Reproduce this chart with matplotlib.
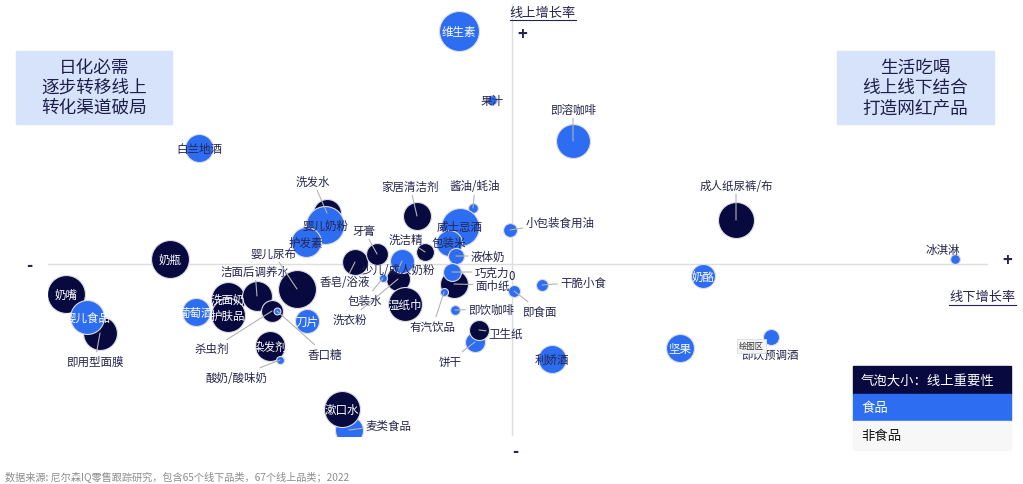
import matplotlib
matplotlib.use("Agg")
import matplotlib.pyplot as plt
import numpy as np
from matplotlib.patches import Rectangle

plt.rcParams['font.family'] = ['Noto Sans CJK SC', 'DejaVu Sans']

# 品类数据: 线下增长率(x), 线上增长率(y), 线上重要性(气泡大小), 分组
# 先画非食品, 再画食品, 最后两个压在上面的
names = ['成人纸尿裤/布', '奶瓶', '奶嘴', '即用型面膜', '洗面奶', '护肤品', '洁面后调养水',
         '婴儿尿布', '杀虫剂', '染发剂', '洗发水', '香皂/浴液', '牙膏', '洗洁精', '洗衣粉',
         '湿纸巾', '家居清洁剂', '面巾纸',
         '维生素', '果汁', '即溶咖啡', '白兰地酒', '冰淇淋', '奶酪', '即饮预调酒', '坚果',
         '利娇酒', '饼干', '麦类食品', '婴儿食品', '葡萄酒', '香口糖', '刀片', '酸奶/酸味奶',
         '婴儿奶粉', '护发素', '少儿/成人奶粉', '包装水', '酱油/蚝油', '小包装食用油',
         '威士忌酒', '包装米', '液体奶', '巧克力', '有汽饮品', '即饮咖啡', '即食面', '干脆小食',
         '漱口水', '卫生纸']
offline_growth = [22.4, -34.2, -44.6, -41.2, -28.4, -28.4, -25.5,
                  -21.5, -24.0, -24.2, -18.5, -15.7, -13.5, -8.7, -11.4,
                  -10.7, -9.5, -5.8,
                  -5.3, -2.0, 6.1, -31.3, 44.3, 19.1, 25.9, 16.8,
                  4.0, -3.7, -16.3, -42.5, -31.6, -23.5, -20.5, -23.2,
                  -18.7, -20.6, -11.0, -12.9, -3.9, -0.2,
                  -5.2, -6.3, -5.6, -6.0, -6.8, -5.7, 0.2, 3.0,
                  -17.0, -3.3]
online_growth = [4.4, 0.5, -3.0, -6.9, -3.5, -5.1, -3.2,
                 -2.5, -4.7, -8.2, 5.1, 0.2, 1.0, 1.2, -1.5,
                 -4.0, 4.8, -2.0,
                 23.3, 16.4, 12.3, 11.6, 0.5, -1.2, -7.3, -8.4,
                 -9.5, -7.8, -16.6, -5.3, -4.8, -4.7, -5.7, -9.6,
                 3.9, 2.2, 0.3, -1.4, 5.6, 3.4,
                 3.7, 2.1, 0.8, -0.8, -2.8, -4.6, -2.7, -2.1,
                 -14.5, -6.6]
online_weight = [81, 90, 90, 72, 72, 72, 56,
                 90, 30, 56, 49, 42, 30, 20, 36,
                 72, 49, 49,
                 100, 6, 72, 49, 6, 36, 16, 49,
                 49, 25, 49, 72, 49, 3, 36, 4,
                 90, 56, 36, 4, 6, 12,
                 90, 42, 16, 20, 4, 6, 9, 9,
                 81, 25]
group = ['非食品'] * 18 + ['食品'] * 30 + ['非食品'] * 2
# 刀片在原图里是蓝色
group[names.index('刀片')] = '食品'

# 气泡外标签: 相对气泡中心的偏移 (px, y向上)
outer_labels = {
    '即溶咖啡': (0, 32), '成人纸尿裤/布': (0, 35), '冰淇淋': (-12, 10),
    '即饮预调酒': (-1, -17), '卫生纸': (27, -3), '饼干': (-25, -19),
    '麦类食品': (39, 5), '即用型面膜': (-5, -28), '洁面后调养水': (-2, 25),
    '婴儿尿布': (-24, 36), '杀虫剂': (-60, -38), '香口糖': (48, -43),
    '酸奶/酸味奶': (-44, -17), '洗发水': (-14, 32), '香皂/浴液': (-10, -20),
    '牙膏': (-13, 24), '洗洁精': (-19, 13), '少儿/成人奶粉': (-4, -9),
    '包装水': (-18, -22), '洗衣粉': (-48, -40), '家居清洁剂': (-7, 30),
    '酱油/蚝油': (2, 22), '小包装食用油': (50, 8), '液体奶': (32, 0),
    '巧克力': (40, 0), '面巾纸': (39, -1), '有汽饮品': (-11, -34),
    '即饮咖啡': (36, 1), '即食面': (26, -20), '干脆小食': (41, 3),
}
no_line = {'冰淇淋', '即饮预调酒'}
dark_inside = {'果汁', '白兰地酒', '利娇酒', '婴儿奶粉', '护发素', '威士忌酒', '包装米'}

NAVY = '#08093f'
BLUE = '#2d6df1'
TXT = '#25254f'
colors = {'食品': BLUE, '非食品': NAVY}

W, H = 1023, 485
fig = plt.figure(figsize=(W / 100, H / 100), dpi=100)


def fx(px):
    return px / W


def fy(py):
    return 1 - py / H


ax = fig.add_axes([fx(48), fy(437), 940 / W, 432 / H])
ax.set_xlim(-46.4, 47.6)
ax.set_ylim(-17.2, 26.0)
ax.axis('off')
ax.axhline(0, color='#dedede', lw=1, zorder=1)
ax.axvline(0, color='#dedede', lw=1, zorder=1)

pt = 72 / 100  # px -> pt
for i, n in enumerate(names):
    x, y, w = offline_growth[i], online_growth[i], online_weight[i]
    s = w * (4 * pt) ** 2
    ax.scatter(x, y, s=s, color=colors[group[i]], edgecolor='#dcdce4',
               linewidth=0.8, zorder=2 + i * 0.01)
    if n in outer_labels:
        dx, dy = outer_labels[n]
        props = None if n in no_line else dict(arrowstyle='-', color='#b3b3b3',
                                                lw=0.8, shrinkA=0, shrinkB=0)
        ax.annotate(n, xy=(x, y), xytext=(dx * pt, dy * pt),
                    textcoords='offset points', ha='center', va='center',
                    fontsize=8.3, color=TXT, arrowprops=props, zorder=10)
    else:
        c = TXT if n in dark_inside else 'white'
        ax.text(x, y, n, ha='center', va='center', fontsize=8.3, color=c, zorder=10)

ax.text(0, -1.1, '0', ha='center', va='center', fontsize=8.3, color=TXT, zorder=10)

# 象限说明框
for x0, x1, txt in [(16, 172, '日化必需\n逐步转移线上\n转化渠道破局'),
                    (837, 994, '生活吃喝\n线上线下结合\n打造网红产品')]:
    fig.patches.append(Rectangle((fx(x0), fy(125)), fx(x1 - x0), 73 / H,
                                 transform=fig.transFigure, color='#d7e2fb', zorder=0))
    fig.text(fx((x0 + x1) / 2), fy(88), txt, ha='center', va='center',
             fontsize=12.7, color='#1e1e4a', linespacing=1.15)

# 坐标轴标题
for cx, cy, x0, x1, txt in [(543, 13, 510, 576, '线上增长率'),
                            (982, 298, 949, 1016, '线下增长率')]:
    fig.text(fx(cx), fy(cy), txt, ha='center', va='center', fontsize=9.5, color=TXT)
    fig.add_artist(plt.Line2D([fx(x0), fx(x1)], [fy(cy + 8), fy(cy + 8)],
                              color=TXT, lw=0.8))

for px, py, sym in [(522, 35, '+'), (1007, 261, '+'), (29, 266, '-'), (515, 452, '-')]:
    fig.text(fx(px), fy(py), sym, ha='center', va='center', fontsize=12,
             color=TXT, fontweight='bold')

# 图例
legend_rows = [('气泡大小：线上重要性', NAVY, 'white', 367, 395),
               ('食品', BLUE, 'white', 395, 422),
               ('非食品', '#f7f7f7', '#111111', 422, 451)]
for txt, bg, fg, y0, y1 in legend_rows:
    fig.patches.append(Rectangle((fx(853), fy(y1)), fx(158), (y1 - y0) / H,
                                 transform=fig.transFigure, color=bg, zorder=0))
    fig.text(fx(861), fy((y0 + y1) / 2), txt, ha='left', va='center',
             fontsize=9.6, color=fg)

# 截图里的提示框
fig.patches.append(Rectangle((fx(737), fy(354)), fx(29), 14 / H,
                             transform=fig.transFigure, facecolor='#f4f4f4',
                             edgecolor='#dddddd', lw=0.6, zorder=5))
fig.text(fx(751), fy(347), '绘图区', ha='center', va='center', fontsize=6,
         color='#333333', zorder=6)

fig.text(fx(5), fy(477), '数据来源: 尼尔森IQ零售跟踪研究，包含65个线下品类，67个线上品类；2022',
         ha='left', va='center', fontsize=7.3, color='#8c8c8c')

fig.savefig('out.png', dpi=100)
